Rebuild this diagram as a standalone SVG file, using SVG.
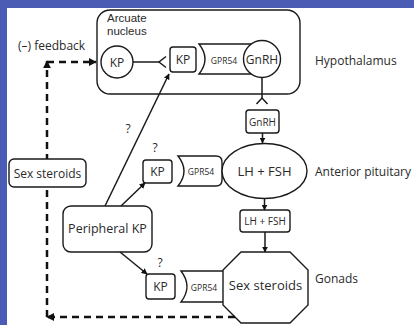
<svg xmlns="http://www.w3.org/2000/svg" width="414" height="325" viewBox="0 0 414 325">
<style>
.s{fill:#fff;stroke:#1a1a1a;stroke-width:1.4}
.t{font-family:"Open Sans","Noto Sans",sans-serif;fill:#2a2a2a;text-anchor:middle;dominant-baseline:central}
.l{font-family:"Open Sans","Noto Sans",sans-serif;fill:#2a2a2a;dominant-baseline:central;font-size:12px}
.c{fill:none;stroke:#1a1a1a;stroke-width:1.5}
.d{fill:none;stroke:#111;stroke-width:2.5;stroke-dasharray:7 5}
</style>
<defs>
<marker id="a" viewBox="0 0 10 10" refX="9" refY="5" markerWidth="6" markerHeight="6" markerUnits="userSpaceOnUse" orient="auto"><path d="M0,0 L10,5 L0,10 z" fill="#111"/></marker>
<marker id="ad" viewBox="0 0 10 10" refX="9" refY="5" markerWidth="8" markerHeight="8" markerUnits="userSpaceOnUse" orient="auto"><path d="M0,0 L10,5 L0,10 z" fill="#111"/></marker>
</defs>
<rect width="414" height="325" fill="#fff"/>
<rect width="414" height="8" fill="#4a5cb4"/>
<rect width="7" height="325" fill="#4a5cb4"/>

<g id="hypothalamus">
<rect class="s" x="97" y="10" width="203" height="84" rx="13"/>
<text x="107" y="22" font-family="Liberation Sans, Arial, sans-serif" font-size="11.5" fill="#2a2a2a">Arcuate</text>
<text x="107" y="35" font-family="Liberation Sans, Arial, sans-serif" font-size="11.5" fill="#2a2a2a">nucleus</text>
</g>
<g id="kp-arcuate"><circle class="s" cx="117" cy="62" r="16"/><text class="t" x="117" y="62" font-size="12">KP</text></g>
<g id="gpr54-top"><path class="s" d="M199,44 L252,44 L252,74 L199,74 Q211,59 199,44 Z"/><text class="t" x="224" y="60" font-size="8.5">GPR54</text></g>
<g id="kp-top"><rect class="s" x="170" y="47" width="26" height="25" rx="3"/><text class="t" x="183" y="59.5" font-size="12">KP</text></g>
<g id="gnrh-neuron"><circle class="s" cx="262" cy="59" r="18.5"/><text class="t" x="262" y="59" font-size="12">GnRH</text></g>
<g id="gnrh"><rect class="s" x="246" y="110" width="33" height="23" rx="3"/><text class="t" x="262.5" y="121.5" font-size="10">GnRH</text></g>
<g id="gpr54-mid"><path class="s" d="M178,156 L216,156 Q222,156 222,162 L222,180 Q222,186 216,186 L178,186 Q190,171 178,156 Z"/><text class="t" x="201" y="171" font-size="8.5">GPR54</text></g>
<g id="kp-mid"><rect class="s" x="143" y="160" width="29" height="23" rx="3"/><text class="t" x="157.5" y="171.5" font-size="12">KP</text></g>
<g id="pituitary"><ellipse class="s" cx="264.5" cy="171" rx="42.5" ry="27.5"/><text class="t" x="264.5" y="171" font-size="13">LH + FSH</text></g>
<g id="lhfsh"><rect class="s" x="240" y="210" width="50" height="22" rx="3"/><text class="t" x="265" y="221" font-size="10">LH + FSH</text></g>
<g id="gpr54-bot"><path class="s" d="M181,271 L222,271 Q228,271 228,277 L228,296 Q228,302 222,302 L181,302 Q193,286.5 181,271 Z"/><text class="t" x="204" y="287" font-size="8.5">GPR54</text></g>
<g id="kp-bot"><rect class="s" x="146" y="274" width="29" height="25" rx="3"/><text class="t" x="160.5" y="286.5" font-size="12">KP</text></g>
<g id="gonads"><polygon class="s" points="241,252 290,252 308,270 308,305 290,323 241,323 223,305 223,270"/><text class="t" x="265.5" y="285" font-size="13">Sex steroids</text></g>
<g id="peripheral"><rect class="s" x="63" y="206" width="89" height="46" rx="8"/><text class="t" x="107.5" y="228" font-size="12.5">Peripheral KP</text></g>

<g id="connectors">
<path class="c" d="M133,62 L159,62"/>
<path class="c" d="M166,56.5 L159,62 L166,67.5"/>
<path class="c" d="M262,77.5 L262,98"/>
<path class="c" d="M256.5,104 L262,98 L267.5,104"/>
<path class="c" d="M262.5,133 L262.5,143" marker-end="url(#a)"/>
<path class="c" d="M264.5,198.5 L264.5,210" marker-end="url(#a)"/>
<path class="c" d="M265,232 L265,252" marker-end="url(#a)"/>
<path class="c" d="M105,206 L169,74" marker-end="url(#a)"/>
<path class="c" d="M121,206 L145,183" marker-end="url(#a)"/>
<path class="c" d="M120,252 L147,274" marker-end="url(#a)"/>
<path class="d" d="M235,317 L47,317" marker-end="url(#ad)"/>
<path class="d" d="M47,317 L47,61" marker-end="url(#ad)"/>
<path class="d" d="M47,62 L96,62" marker-end="url(#ad)"/>
</g>
<g id="sex-steroids-left"><rect class="s" x="9" y="159" width="77" height="28" rx="5"/><text class="t" x="47.5" y="173" font-size="12">Sex steroids</text></g>

<text class="l" x="18" y="45">(–) feedback</text>
<text class="l" x="315" y="60">Hypothalamus</text>
<text class="l" x="315" y="171">Anterior pituitary</text>
<text class="l" x="315" y="278">Gonads</text>
<text class="t" x="128" y="128" font-size="12">?</text>
<text class="t" x="155" y="147" font-size="12">?</text>
<text class="t" x="160" y="262" font-size="12">?</text>
</svg>
